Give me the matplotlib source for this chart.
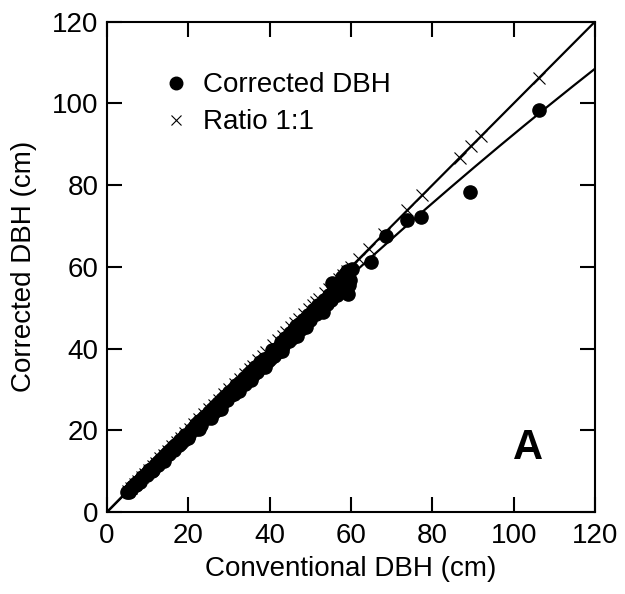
import numpy as np
import matplotlib
matplotlib.use("Agg")
import matplotlib.pyplot as plt

# conventional DBH (x) and corrected DBH (y)
conv_dbh = [5.0, 5.3, 5.6, 5.9, 6.2, 6.5, 6.8, 7.1, 7.5, 7.9, 8.3, 8.7, 9.1, 9.5,
            10.0, 10.4, 10.9, 11.3, 11.8, 12.3, 12.8, 13.3, 13.9, 14.5, 15.0, 15.6,
            16.2, 16.8, 17.4, 18.0, 18.3, 18.6, 19.3, 19.9, 20.6, 21.3, 22.0, 22.7,
            23.5, 24.2, 25.0, 25.8, 26.6, 27.4, 28.3, 28.5, 29.1, 30.0, 30.9, 31.8,
            32.2, 32.7, 33.6, 34.6, 35.0, 35.5, 36.5, 37.5, 38.5, 39.5, 39.9, 40.6,
            41.6, 42.7, 43.8, 44.8, 44.9, 46.0, 46.5, 47.2, 48.3, 48.9, 49.5, 50.7,
            52.0, 53.3, 53.4, 54.6, 55.4, 55.9, 57.2, 57.8, 58.5, 59.0, 59.3, 59.8,
            60.2, 64.8, 68.5, 73.8, 77.3, 89.3, 106.2,
            5.4, 6.0, 7.2, 8.0, 9.8, 11.0, 12.5, 13.6, 15.3, 16.5, 17.8, 19.0,
            20.2, 21.8, 23.0, 24.6, 26.0, 27.0, 29.5, 30.5, 31.2, 33.0, 34.0, 36.0,
            37.0, 38.0, 40.2, 41.0, 42.0, 43.3, 45.5, 47.8, 50.0, 51.3, 52.7, 54.0,
            56.5, 57.5, 59.6,
            14.0, 22.5, 25.5, 28.0, 32.5, 35.3, 38.8, 43.0, 46.8, 49.0, 53.0, 55.0]
corr_dbh = [4.9, 5.1, 5.5, 5.7, 6.1, 6.3, 6.6, 7.0, 7.3, 7.7, 8.1, 8.5, 8.9, 9.3,
            9.8, 10.2, 10.6, 10.2, 11.5, 12.0, 12.5, 13.0, 13.6, 14.1, 14.7, 15.2,
            15.8, 16.4, 17.0, 17.6, 16.8, 18.1, 18.8, 18.0, 20.1, 20.8, 21.5, 22.2,
            22.9, 23.6, 24.4, 25.2, 26.0, 26.7, 27.6, 26.9, 28.4, 29.3, 30.1, 31.0,
            30.0, 31.9, 32.8, 33.7, 33.8, 34.6, 35.6, 36.6, 37.5, 37.0, 38.0, 39.6,
            39.8, 41.6, 42.7, 41.8, 43.8, 44.9, 45.5, 46.0, 47.1, 47.5, 48.3, 49.4,
            50.7, 52.0, 51.5, 53.2, 56.0, 54.5, 55.7, 57.5, 58.2, 59.0, 53.3, 56.8,
            59.5, 61.3, 67.6, 71.5, 72.2, 78.2, 98.5,
            4.8, 5.6, 6.6, 7.4, 9.0, 10.1, 11.5, 12.6, 14.2, 15.2, 16.4, 17.6,
            18.8, 20.3, 21.3, 22.9, 24.3, 25.0, 27.3, 28.6, 28.8, 31.0, 31.3, 33.6,
            34.3, 35.4, 37.5, 38.2, 39.2, 40.7, 42.5, 44.9, 47.0, 48.4, 49.5, 51.0,
            53.2, 54.8, 55.5,
            12.6, 20.3, 23.0, 25.2, 29.6, 32.2, 35.5, 39.5, 43.2, 45.2, 49.0, 52.0]

# 1:1 reference points (conventional DBH plotted against itself)
ratio_dbh = [5.2, 6.0, 6.8, 7.7, 8.5, 9.4, 10.3, 11.2, 12.1, 13.1, 14.0, 15.0,
             16.1, 17.1, 18.2, 19.3, 20.4, 21.5, 22.7, 23.9, 25.1, 26.3, 27.5,
             28.8, 30.1, 31.4, 32.6, 33.9, 35.1, 35.8, 37.2, 38.3, 39.1, 40.8,
             42.0, 43.2, 44.1, 45.2, 46.3, 47.3, 48.5, 49.6, 50.6, 51.4, 52.2,
             53.5, 54.6, 55.8, 57.0, 58.1, 59.0, 60.0, 62.0, 64.4, 68.1, 73.8,
             77.5, 86.7, 89.5, 92.0, 106.2]

# fitted curve: corrected = b1 * conv + b2 * conv^2
fit_coef = [-0.001014, 1.0258, 0.0]

plt.rcParams['font.family'] = ['Liberation Sans', 'DejaVu Sans']

fig = plt.figure(figsize=(6.25, 5.94), dpi=100)
ax = fig.add_axes([0.1712, 0.138, 0.7808, 0.8255])

xs = np.linspace(0, 120, 200)
ax.plot([0, 120], [0, 120], color='black', lw=1.6, zorder=1)
ax.plot(xs, np.polyval(fit_coef, xs), color='black', lw=1.6, zorder=1)

ax.plot(conv_dbh, corr_dbh, 'o', color='black', ms=9.5, label='Corrected DBH', zorder=3)
ax.plot(ratio_dbh, ratio_dbh, 'x', color='black', ms=8, mew=0.8, label='Ratio 1:1', zorder=2)

ax.set_xlim(0, 120)
ax.set_ylim(0, 120)
ax.set_xticks(np.arange(0, 121, 20))
ax.set_yticks(np.arange(0, 121, 20))
ax.tick_params(direction='in', length=10.5, width=1.5, top=True, right=True,
               labelsize=20)
ax.tick_params(axis='x', pad=8)
ax.tick_params(axis='y', pad=6)
for sp in ax.spines.values():
    sp.set_linewidth(1.5)

ax.set_xlabel('Conventional DBH (cm)', fontsize=20, labelpad=5)
ax.set_ylabel('Corrected DBH (cm)', fontsize=20, labelpad=11)

ax.legend(loc='upper left', bbox_to_anchor=(0.085, 0.925), frameon=False,
          fontsize=20, handlelength=1.0, handletextpad=0.45, borderpad=0,
          labelspacing=0.4, markerscale=0.95)

ax.text(103.5, 15.7, 'A', fontsize=30, fontweight='bold', ha='center', va='center')

fig.savefig('out.png', dpi=100)
